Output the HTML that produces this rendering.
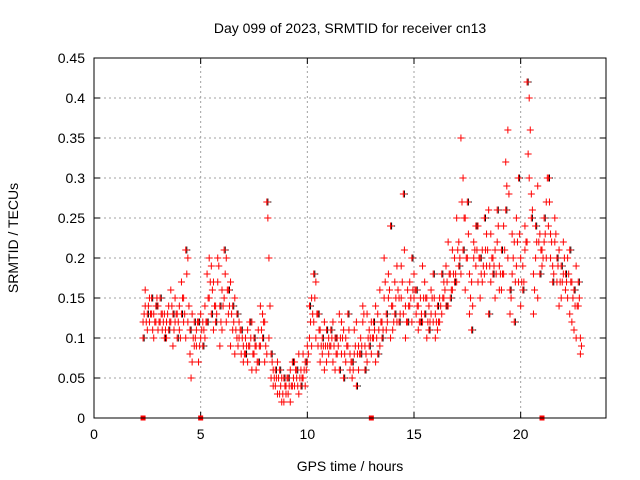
<!DOCTYPE html>
<html><head><meta charset="utf-8"><style>
html,body{margin:0;padding:0;background:#fff;}
svg{display:block;font-family:"Liberation Sans",sans-serif;}
</style></head><body>
<svg id="chart" width="640" height="480">
<text x="350" y="33" font-size="14" text-anchor="middle">Day 099 of 2023, SRMTID for receiver cn13</text>
<text x="350" y="471" font-size="14" text-anchor="middle">GPS time / hours</text>
<text x="18" y="238" font-size="14" text-anchor="middle" transform="rotate(-90 18 238)">SRMTID / TECUs</text>
<g id="grid"></g><g id="ticks"></g><g id="marks"></g>
<rect x="94" y="58" width="512" height="360" fill="none" stroke="#000"/>
</svg>
<script>
const xTicks=[0,5,10,15,20];
const yTicks=[0,0.05,0.1,0.15,0.2,0.25,0.3,0.35,0.4,0.45];
const yTickLabels=["0","0.05","0.1","0.15","0.2","0.25","0.3","0.35","0.4","0.45"];
const startTime=2.3;
const timeStep=0.1;
const mainValues=[0.12,0.14,0.11,0.15,0.13,0.10,0.12,0.14,
0.12,0.11,0.13,0.10,0.14,0.12,0.09,0.15,0.13,0.11,
0.17,0.12,0.10,0.20,0.08,0.13,0.09,0.11,0.07,0.10,
0.12,0.10,0.18,0.15,0.19,0.11,0.14,0.17,0.09,0.16,
0.15,0.20,0.13,0.17,0.11,0.15,0.10,0.12,0.08,0.09,
0.10,0.07,0.09,0.12,0.08,0.06,0.11,0.09,0.13,0.07,
0.08,0.20,0.05,0.06,0.04,0.07,0.03,0.05,0.02,0.04,
0.03,0.06,0.04,0.07,0.05,0.03,0.06,0.08,0.04,0.07,
0.10,0.15,0.12,0.17,0.09,0.11,0.08,0.12,0.07,0.10,
0.09,0.12,0.06,0.10,0.13,0.08,0.11,0.07,0.09,0.06,
0.05,0.08,0.12,0.06,0.10,0.14,0.09,0.07,0.11,0.08,
0.10,0.07,0.13,0.09,0.12,0.15,0.11,0.18,0.10,0.14,
0.17,0.12,0.15,0.19,0.13,0.10,0.16,0.14,0.12,0.18,
0.13,0.11,0.15,0.12,0.17,0.10,0.14,0.16,0.12,0.13,
0.11,0.15,0.13,0.17,0.19,0.14,0.18,0.16,0.20,0.17,
0.22,0.18,0.30,0.25,0.20,0.13,0.17,0.22,0.19,0.24,
0.15,0.21,0.18,0.23,0.26,0.17,0.20,0.15,0.22,0.19,
0.16,0.24,0.32,0.20,0.13,0.18,0.22,0.25,0.17,0.14,
0.19,0.24,0.22,0.40,0.28,0.18,0.20,0.15,0.23,0.19,
0.22,0.27,0.24,0.20,0.19,0.22,0.17,0.21,0.15,0.18,
0.16,0.20,0.13,0.17,0.11,0.19,0.14,0.10];
const altValues=[0.10,0.16,0.13,0.12,0.15,0.13,0.14,0.11,
0.15,0.13,0.10,0.12,0.11,0.16,0.13,0.12,0.10,0.14,
0.13,0.15,0.21,0.12,0.11,0.07,0.12,0.09,0.12,0.13,
0.09,0.14,0.12,0.20,0.13,0.17,0.12,0.20,0.14,0.11,
0.21,0.12,0.16,0.09,0.14,0.08,0.13,0.10,0.11,0.07,
0.08,0.11,0.12,0.06,0.10,0.09,0.07,0.14,0.10,0.12,
0.27,0.10,0.08,0.04,0.06,0.03,0.06,0.02,0.05,0.03,
0.05,0.02,0.07,0.04,0.06,0.08,0.04,0.05,0.07,0.09,
0.14,0.09,0.18,0.10,0.13,0.07,0.10,0.06,0.11,0.08,
0.11,0.07,0.10,0.08,0.06,0.12,0.05,0.10,0.13,0.08,
0.07,0.11,0.04,0.09,0.08,0.12,0.06,0.13,0.09,0.12,
0.12,0.14,0.08,0.16,0.10,0.20,0.13,0.15,0.24,0.11,
0.13,0.19,0.12,0.15,0.28,0.14,0.12,0.17,0.20,0.15,
0.16,0.14,0.12,0.19,0.13,0.15,0.11,0.13,0.18,0.10,
0.14,0.12,0.18,0.15,0.14,0.22,0.15,0.21,0.17,0.25,
0.19,0.35,0.21,0.16,0.27,0.18,0.11,0.20,0.24,0.17,
0.20,0.17,0.25,0.19,0.13,0.23,0.18,0.21,0.26,0.16,
0.21,0.18,0.26,0.36,0.16,0.23,0.12,0.19,0.30,0.20,
0.16,0.21,0.42,0.30,0.25,0.13,0.24,0.29,0.18,0.21,
0.25,0.20,0.30,0.23,0.17,0.25,0.20,0.14,0.19,0.22,
0.18,0.15,0.21,0.12,0.16,0.10,0.17,0.08];
const extraValues=[0.13,0.12,0.14,0.13,0.11,0.12,0.15,0.12,
0.13,0.12,0.11,0.13,0.12,0.14,0.11,0.13,0.12,0.10,
0.15,0.13,0.18,0.14,0.05,0.10,0.10,0.12,0.09,0.11,
0.11,0.12,0.15,0.17,0.16,0.14,0.13,0.19,0.12,0.14,
0.18,0.16,0.14,0.13,0.12,0.11,0.09,0.11,0.10,0.08,
0.09,0.09,0.10,0.08,0.09,0.07,0.09,0.11,0.12,0.09,
0.25,0.14,0.07,0.05,0.05,0.05,0.04,0.03,0.04,0.05,
0.04,0.04,0.05,0.06,0.04,0.05,0.05,0.06,0.06,0.08,
0.12,0.13,0.15,0.13,0.11,0.09,0.09,0.09,0.09,0.09,
0.10,0.09,0.08,0.09,0.10,0.10,0.08,0.09,0.11,0.07,
0.06,0.09,0.08,0.08,0.09,0.13,0.08,0.10,0.10,0.10,
0.11,0.10,0.11,0.12,0.11,0.17,0.12,0.16,0.14,0.12,
0.15,0.16,0.13,0.17,0.21,0.12,0.14,0.15,0.16,0.16,
0.14,0.12,0.13,0.15,0.15,0.12,0.12,0.15,0.15,0.12,
0.12,0.14,0.15,0.16,0.17,0.18,0.16,0.18,0.18,0.21,
0.20,0.27,0.25,0.20,0.23,0.15,0.14,0.21,0.21,0.20,
0.18,0.19,0.21,0.21,0.19,0.20,0.19,0.18,0.24,0.18,
0.18,0.21,0.29,0.28,0.15,0.20,0.17,0.22,0.23,0.17,
0.17,0.22,0.33,0.36,0.26,0.16,0.22,0.22,0.21,0.20,
0.23,0.30,0.27,0.22,0.18,0.23,0.19,0.17,0.17,0.20,
0.17,0.18,0.17,0.15,0.14,0.14,0.15,0.09];
const zeroMarkTimes=[2.3,5.0,13.0,21.0];

const NS="http://www.w3.org/2000/svg";
const X0=94,X1=606,Y0=418,Y1=58,XMAX=24,YMAX=0.45;
function xs(t){return X0+(X1-X0)*t/XMAX;}
function ys(v){return Y0-(Y0-Y1)*v/YMAX;}
function mk(tag,attrs,parent){const e=document.createElementNS(NS,tag);for(const k in attrs)e.setAttribute(k,attrs[k]);parent.appendChild(e);return e;}
const grid=document.getElementById('grid'),ticks=document.getElementById('ticks'),marks=document.getElementById('marks');
xTicks.forEach(t=>{
  const x=xs(t);
  if(t>0){const g=mk('line',{x1:x,x2:x,y1:Y0,y2:Y1,stroke:'#a0a0a0','stroke-dasharray':'2,3'},grid);
  
  }
  mk('line',{x1:x,x2:x,y1:Y0,y2:Y0-6,stroke:'#000'},ticks);
  mk('line',{x1:x,x2:x,y1:Y1,y2:Y1+6,stroke:'#000'},ticks);
  const l=mk('text',{x:x,y:Y0+21,'font-size':14,'text-anchor':'middle'},ticks);l.textContent=t;
  
  
});
yTicks.forEach((v,i)=>{
  const y=ys(v);
  if(v>0){const g=mk('line',{x1:X0,x2:X1,y1:y,y2:y,stroke:'#a0a0a0','stroke-dasharray':'2,3'},grid);
  
  }
  mk('line',{x1:X0,x2:X0+6,y1:y,y2:y,stroke:'#000'},ticks);
  mk('line',{x1:X1,x2:X1-6,y1:y,y2:y,stroke:'#000'},ticks);
  const l=mk('text',{x:X0-9,y:y+5,'font-size':14,'text-anchor':'end'},ticks);l.textContent=yTickLabels[i];
  
  
});
function plus(t,v,color,name){
  const x=xs(t),y=ys(v);
  const p=mk('path',{d:`M${x-3.5},${y}h7M${x},${y-3.5}v7`,stroke:color,'stroke-width':1,fill:'none'},marks);
  
  
}
altValues.forEach((v,i)=>{if(i%2===0)plus(startTime+i*timeStep+0.05,v,'#000','black-point');});
altValues.forEach((v,i)=>plus(startTime+i*timeStep,v,'#f00','red-point'));
extraValues.forEach((v,i)=>plus(startTime+i*timeStep+0.05,v,'#f00','red-point'));
mainValues.forEach((v,i)=>plus(startTime+i*timeStep,v,'#f00','red-point'));
zeroMarkTimes.forEach(t=>{
  const r=mk('rect',{x:xs(t)-2.5,y:ys(0)-2.5,width:5,height:5,fill:'#f00'},marks);
  
  
});
</script>
</body></html>
